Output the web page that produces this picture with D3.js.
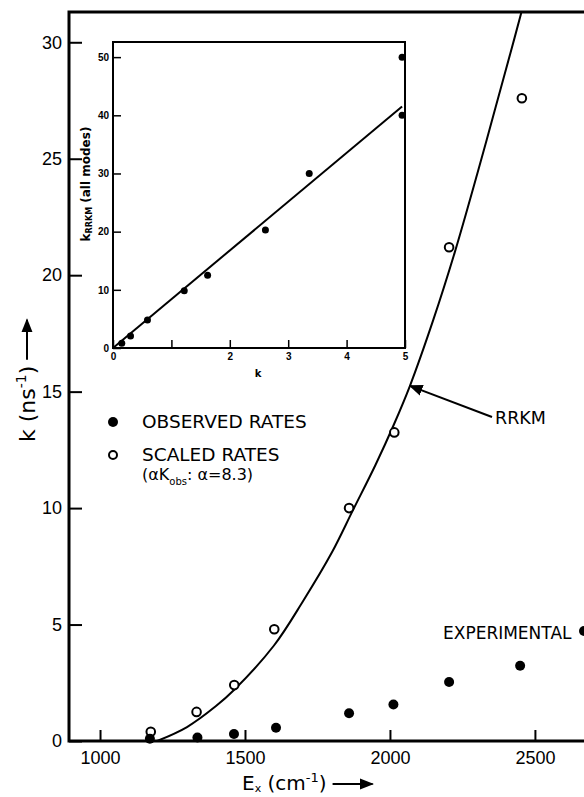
<!doctype html>
<html lang="en">
<head>
    <meta charset="UTF-8" />
    <title>RRKM rates</title>
    <script src="https://d3js.org/d3.v7.min.js"></script>
    <style>
        body, html {
            margin: 0;
            padding: 0;
            background: white;
            overflow: hidden;
        }
        svg {
            display: block;
            font-family: "DejaVu Sans", sans-serif;
        }
        .axis text {
            font-size: 18px;
            fill: black;
        }
        .inset text {
            font-size: 10px;
            font-weight: bold;
            fill: black;
        }
        .axis line {
            stroke: black;
            stroke-width: 2px;
        }
        .inset line {
            stroke-width: 1.5px;
        }
    </style>
</head>
<body>
    <svg id="chart" width="584" height="797"></svg>

    <script>
        // main plot: excitation energy (cm-1) vs rate (ns-1)
        const scaledE = [1175, 1333, 1463, 1601, 1859, 2015, 2204, 2455];
        const scaledK = [0.4, 1.25, 2.4, 4.8, 10.0, 13.25, 21.2, 27.6];
        const observedE = [1172, 1336, 1462, 1607, 1859, 2012, 2204, 2449];
        const observedK = [0.1, 0.15, 0.3, 0.57, 1.19, 1.57, 2.53, 3.23];
        const rrkmE = [1197, 1300, 1400, 1463, 1600, 1700, 1800, 1872, 1950, 2014, 2069, 2150, 2224, 2300, 2362, 2430, 2490];
        const rrkmK = [0, 0.6, 1.5, 2.2, 4.1, 6.0, 8.1, 9.9, 11.85, 13.6, 15.25, 18.1, 21.0, 24.3, 27.1, 30.2, 33.0];
        const xTicks = [1000, 1500, 2000, 2500];
        const yTicks = [0, 5, 10, 15, 20, 25, 30];

        // inset: k vs k_RRKM (all modes)
        const insetK = [0.15, 0.30, 0.59, 1.22, 1.62, 2.61, 3.36, 4.95, 4.95];
        const insetKR = [0.8, 2.06, 4.8, 9.85, 12.5, 20.3, 30.0, 50.0, 40.0];
        const fitK = [0, 4.95];
        const fitKR = [0, 41.5];
        const insetXTicks = [0, 1, 2, 3, 4, 5];
        const insetYTicks = [0, 10, 20, 30, 40, 50];

        const svg = d3.select("#chart");

        const x = d3.scaleLinear().domain([893, 2690]).range([69, 590]);
        const y = d3.scaleLinear().domain([0, 31.3]).range([741, 12]);

        const xi = d3.scaleLinear().domain([0, 5]).range([113, 405]);
        const yi = d3.scaleLinear().domain([0, 52.6]).range([348, 42]);

        const defs = svg.append("defs");
        defs.append("clipPath").attr("id", "plotclip")
            .append("rect")
            .attr("x", 69).attr("y", 12)
            .attr("width", 530).attr("height", 729);

        defs.append("marker")
            .attr("id", "head")
            .attr("viewBox", "0 0 10 10")
            .attr("refX", 9).attr("refY", 5)
            .attr("markerWidth", 7).attr("markerHeight", 7)
            .attr("orient", "auto")
            .append("path")
            .attr("d", "M0,1 L10,5 L0,9 Z")
            .attr("fill", "black");

        // main axes
        const gy = svg.append("g").attr("class", "axis")
            .attr("transform", "translate(69,0)")
            .call(d3.axisLeft(y).tickValues(yTicks).tickSize(-13).tickPadding(7));
        gy.select(".domain").remove();

        const gx = svg.append("g").attr("class", "axis")
            .attr("transform", "translate(0,741)")
            .call(d3.axisBottom(x).tickValues(xTicks).tickSize(-11).tickPadding(10)
                .tickFormat(d3.format("d")));
        gx.select(".domain").remove();

        // frame (right side runs off the page)
        svg.append("path")
            .attr("d", "M600,12 L69,12 L69,741 L600,741")
            .attr("fill", "none")
            .attr("stroke", "black")
            .attr("stroke-width", 3);

        // RRKM curve
        const rrkm = rrkmE.map((e, i) => [e, rrkmK[i]]);
        svg.append("path")
            .datum(rrkm)
            .attr("clip-path", "url(#plotclip)")
            .attr("fill", "none")
            .attr("stroke", "black")
            .attr("stroke-width", 2)
            .attr("d", d3.line().x(d => x(d[0])).y(d => y(d[1])).curve(d3.curveCatmullRom));

        // points
        svg.append("g").selectAll("circle")
            .data(scaledE.map((e, i) => [e, scaledK[i]]))
            .join("circle")
            .attr("cx", d => x(d[0]))
            .attr("cy", d => y(d[1]))
            .attr("r", 4.3)
            .attr("fill", "white")
            .attr("stroke", "black")
            .attr("stroke-width", 2);

        svg.append("g").selectAll("circle")
            .data(observedE.map((e, i) => [e, observedK[i]]))
            .join("circle")
            .attr("cx", d => x(d[0]))
            .attr("cy", d => y(d[1]))
            .attr("r", 5)
            .attr("fill", "black");

        // axis titles
        const ylab = svg.append("text")
            .attr("transform", "translate(35,442) rotate(-90)")
            .attr("font-size", 22);
        ylab.append("tspan").text("k (ns");
        ylab.append("tspan").attr("font-size", 14).attr("dy", -9).text("-1");
        ylab.append("tspan").attr("dy", 9).text(")");
        const ylen = ylab.node().getComputedTextLength();
        svg.append("line")
            .attr("transform", "translate(27,442) rotate(-90)")
            .attr("x1", ylen + 6).attr("x2", ylen + 46)
            .attr("y1", 0).attr("y2", 0)
            .attr("stroke", "black").attr("stroke-width", 2)
            .attr("marker-end", "url(#head)");

        const xlab = svg.append("text")
            .attr("x", 242).attr("y", 790)
            .attr("font-size", 20);
        xlab.append("tspan").text("E");
        xlab.append("tspan").attr("font-size", 11).attr("dy", 2).text("x");
        xlab.append("tspan").attr("dy", -2).text(" (cm");
        xlab.append("tspan").attr("font-size", 13).attr("dy", -8).text("-1");
        xlab.append("tspan").attr("dy", 8).text(")");
        const xlen = xlab.node().getComputedTextLength();
        svg.append("line")
            .attr("x1", 242 + xlen + 6).attr("x2", 242 + xlen + 46)
            .attr("y1", 784).attr("y2", 784)
            .attr("stroke", "black").attr("stroke-width", 2)
            .attr("marker-end", "url(#head)");

        // legend
        const legend = svg.append("g").attr("font-size", 18.5);
        legend.append("circle").attr("cx", 113).attr("cy", 422).attr("r", 5).attr("fill", "black");
        legend.append("text").attr("x", 142).attr("y", 428).text("OBSERVED RATES");
        legend.append("circle").attr("cx", 113).attr("cy", 455).attr("r", 4)
            .attr("fill", "white").attr("stroke", "black").attr("stroke-width", 2);
        legend.append("text").attr("x", 142).attr("y", 461).text("SCALED RATES");
        const note = legend.append("text").attr("x", 142).attr("y", 480).attr("font-size", 16);
        note.append("tspan").text("(αK");
        note.append("tspan").attr("font-size", 10).attr("dy", 5).text("obs");
        note.append("tspan").attr("dy", -5).text(": α=8.3)");

        // RRKM label
        const target = [2069, 15.25];
        svg.append("line")
            .attr("x1", 492).attr("y1", 417)
            .attr("x2", x(target[0])).attr("y2", y(target[1]))
            .attr("stroke", "black").attr("stroke-width", 2)
            .attr("marker-end", "url(#head)");
        svg.append("text").attr("x", 495).attr("y", 424)
            .attr("font-size", 17.5)
            .text("RRKM");

        // experimental label
        svg.append("text").attr("x", 443).attr("y", 639)
            .attr("font-size", 17)
            .text("EXPERIMENTAL");
        svg.append("circle").attr("cx", 584).attr("cy", 631).attr("r", 5).attr("fill", "black");

        // inset
        const inset = svg.append("g").attr("class", "inset");
        inset.append("rect")
            .attr("x", 113).attr("y", 42)
            .attr("width", 292).attr("height", 306)
            .attr("fill", "white")
            .attr("stroke", "black")
            .attr("stroke-width", 2);

        const giy = inset.append("g").attr("class", "axis")
            .attr("transform", "translate(113,0)")
            .call(d3.axisLeft(yi).tickValues(insetYTicks).tickSize(-8).tickPadding(4));
        giy.select(".domain").remove();
        giy.selectAll("text").style("font-size", "10px").style("font-weight", "bold");

        const gix = inset.append("g").attr("class", "axis")
            .attr("transform", "translate(0,348)")
            .call(d3.axisBottom(xi).tickValues(insetXTicks).tickSize(-8).tickPadding(5)
                .tickFormat(d => d === 1 ? "" : d));
        gix.select(".domain").remove();
        gix.selectAll("text").style("font-size", "10px").style("font-weight", "bold");

        inset.append("path")
            .datum(fitK.map((k, i) => [k, fitKR[i]]))
            .attr("fill", "none")
            .attr("stroke", "black")
            .attr("stroke-width", 2)
            .attr("d", d3.line().x(d => xi(d[0])).y(d => yi(d[1])));

        inset.append("g").selectAll("circle")
            .data(insetK.map((k, i) => [k, insetKR[i]]))
            .join("circle")
            .attr("cx", d => xi(d[0]))
            .attr("cy", d => yi(d[1]))
            .attr("r", 3.5)
            .attr("fill", "black");

        inset.append("text")
            .attr("x", 258).attr("y", 377)
            .attr("text-anchor", "middle")
            .text("k");

        const ilab = inset.append("text")
            .attr("transform", "translate(90,184) rotate(-90)")
            .attr("text-anchor", "middle")
            .style("font-size", "12px");
        ilab.append("tspan").text("k");
        ilab.append("tspan").attr("font-size", 8).attr("dy", 2).text("RRKM");
        ilab.append("tspan").attr("dy", -2).text(" (all modes)");
    </script>
</body>
</html>
